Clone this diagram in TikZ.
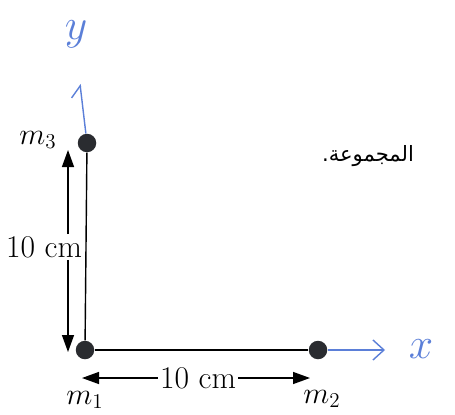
\documentclass[tikz,border=0pt]{standalone}
\usepackage{fontspec}
\usepackage{tikz}
\usetikzlibrary{arrows.meta, positioning, calc}
\newfontfamily\arabicfont[Script=Arabic]{DejaVu Sans}
\TeXXeTstate=1
\definecolor{penblue}{HTML}{5B7FD8}
\definecolor{dotgray}{HTML}{2A2C30}
\tikzset{
    massdot/.style={circle, fill=dotgray, minimum width=0.33cm, minimum height=0.37cm, inner sep=0pt},
    dimarrow/.style={-{Triangle[length=3.4mm, width=2.4mm]}, thick},
    axisarrow/.style={-{Straight Barb[length=2.2mm, width=4mm]}, thick, penblue},
    lbl/.style={font=\fontsize{18}{20}\selectfont, inner sep=1pt}
}

\begin{document}
\begin{tikzpicture}
    \useasboundingbox (0, 0) rectangle (9.1, 8.28);

    % masses
    \node[massdot] (m1) at (1.70, 1.28) {};
    \node[massdot] (m2) at (6.36, 1.28) {};
    \node[massdot] (m3) at (1.74, 5.42) {};
    \draw[thick] (m1) -- (m3);
    \draw[thick] (m1) -- (m2);

    \node[lbl] (m1lab) at (1.70, 0.28) {$m_1$};
    \node[lbl] (m2lab) at (6.44, 0.30) {$m_2$};
    \node[lbl] (m3lab) at (0.76, 5.48) {$m_3$};

    % axes
    \coordinate (xend) at (7.70, 1.28);
    \coordinate (yend) at (1.60, 6.60);
    \draw[axisarrow] (m2) -- (xend);
    \draw[axisarrow, -{Straight Barb[left, length=2.2mm, width=4mm]}] (m3) -- (yend);
    \node[font=\Huge, penblue] (xlab) at (8.42, 1.30) {$x$};
    \node[font=\Huge, penblue] (ylab) at (1.52, 7.60) {$y$};

    % vertical dimension
    \coordinate (vtop) at (1.36, 5.28);
    \coordinate (vbot) at (1.36, 1.24);
    \node[lbl] (vlab) at (0.88, 3.34) {10 cm};
    \draw[dimarrow] (vlab.north -| vtop) -- (vtop);
    \draw[dimarrow] (vlab.south -| vbot) -- (vbot);

    % horizontal dimension
    \coordinate (hleft) at (1.64, 0.72);
    \coordinate (hright) at (6.20, 0.72);
    \node[lbl] (hlab) at (3.96, 0.72) {10 cm};
    \draw[dimarrow] (hlab.west) -- (hleft);
    \draw[dimarrow] (hlab.east) -- (hright);

    % text
    \node[font=\fontsize{12}{14}\selectfont] (word) at (7.36, 5.16) {\arabicfont\beginR المجموعة.\endR};
\end{tikzpicture}
\end{document}
